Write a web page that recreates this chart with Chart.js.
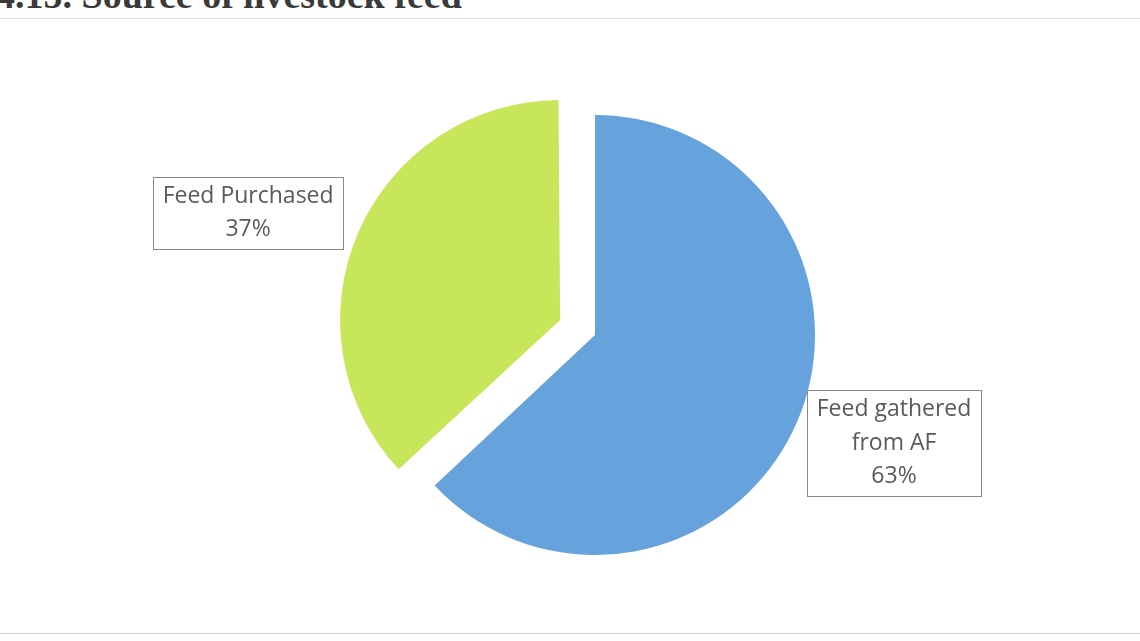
<!DOCTYPE html>
<html>
<head>
<meta charset="utf-8">
<script src="https://cdn.jsdelivr.net/npm/chart.js@4.4.1/dist/chart.umd.min.js"></script>
<style>
  html, body { margin: 0; padding: 0; background: #ffffff; }
  #wrap { position: relative; width: 1140px; height: 641px; overflow: hidden; background: #ffffff; }
  #title { position: absolute; left: -4px; top: -27px; font: bold 38px "Liberation Serif", "DejaVu Serif", serif; color: #3a3a3a; white-space: nowrap; }
  #frameTop { position: absolute; left: 0; right: 0; top: 18px; border-top: 1px solid #dcdcdc; }
  #frameBottom { position: absolute; left: 0; right: 0; top: 633px; border-top: 1px solid #cfcfcf; }
  #c { position: absolute; left: 0; top: 0; }
</style>
</head>
<body>
<div id="wrap">
  <div id="title">4.15. Source of livestock feed</div>
  <div id="frameTop"></div>
  <div id="frameBottom"></div>
  <canvas id="c" width="1140" height="641"></canvas>
</div>
<script>
// ---- data ----
const categories = ['Feed gathered from AF', 'Feed Purchased'];
const shares = [63, 37];
const labelLines = [['Feed gathered', 'from AF'], ['Feed Purchased']];

// ---- styles ----
const sliceColors = ['#66a2dc', '#c8e65a'];
const sliceOffsets = [0, 152]; // Chart.js translates by offset/4
const labelShift = [[299, 108], [-312, -107]];

// keep exploded slice at the same radius as the others
const equalRadiusPlugin = {
  id: 'equalRadius',
  beforeDatasetsDraw(chart) {
    const meta = chart.getDatasetMeta(0);
    meta.data.forEach((arc, i) => {
      const off = sliceOffsets[i] / 4;
      if (!off || arc._radiusFixed) return;
      const circ = arc.endAngle - arc.startAngle;
      const fix = 1 - Math.sin(Math.min(Math.PI, circ));
      arc.outerRadius -= off * fix;
      arc._radiusFixed = true;
    });
  }
};

const labelPlugin = {
  id: 'boxLabels',
  afterDatasetsDraw(chart) {
    const ctx = chart.ctx;
    const meta = chart.getDatasetMeta(0);
    const total = shares.reduce((a, b) => a + b, 0);
    ctx.save();
    ctx.font = '23px "Open Sans", "Noto Sans", sans-serif';
    ctx.textAlign = 'center';
    ctx.textBaseline = 'middle';
    meta.data.forEach((arc, i) => {
      const p = arc.getProps(['x', 'y', 'startAngle', 'endAngle'], true);
      const mid = (p.startAngle + p.endAngle) / 2;
      const off = sliceOffsets[i] / 4;
      const cx = p.x + Math.cos(mid) * off + labelShift[i][0];
      const cy = p.y + Math.sin(mid) * off + labelShift[i][1];
      const lines = labelLines[i].concat([Math.round(shares[i] / total * 100) + '%']);
      const lh = 33.5;
      let w = 0;
      lines.forEach(l => { w = Math.max(w, ctx.measureText(l).width); });
      const bw = w + 19, bh = lines.length * lh + 5;
      ctx.fillStyle = '#ffffff';
      ctx.fillRect(cx - bw / 2, cy - bh / 2, bw, bh);
      ctx.strokeStyle = '#8a8a8a';
      ctx.lineWidth = 1;
      ctx.strokeRect(Math.round(cx - bw / 2) + 0.5, Math.round(cy - bh / 2) + 0.5, Math.round(bw), Math.round(bh));
      ctx.fillStyle = '#5a5a5a';
      lines.forEach((l, k) => {
        ctx.fillText(l, cx, cy - (lines.length - 1) * lh / 2 + k * lh);
      });
    });
    ctx.restore();
  }
};

new Chart(document.getElementById('c'), {
  type: 'pie',
  data: {
    labels: categories,
    datasets: [{
      data: shares,
      backgroundColor: sliceColors,
      borderWidth: 0,
      offset: sliceOffsets,
      radius: 220
    }]
  },
  options: {
    responsive: false,
    animation: false,
    layout: { padding: { left: 50, right: 0, top: 29, bottom: 0 } },
    plugins: { legend: { display: false }, tooltip: { enabled: false }, title: { display: false } }
  },
  plugins: [equalRadiusPlugin, labelPlugin]
});
</script>
</body>
</html>
